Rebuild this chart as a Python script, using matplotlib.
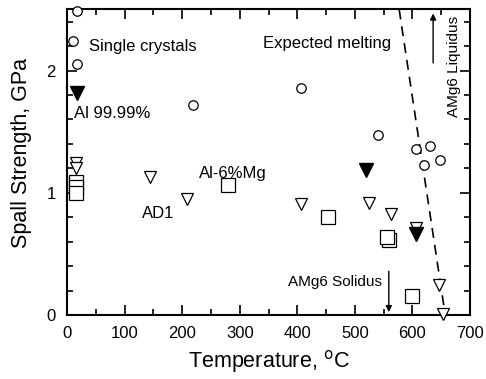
import matplotlib
matplotlib.use("Agg")
import matplotlib.pyplot as plt
from matplotlib.ticker import MultipleLocator

plt.rcParams['font.family'] = ['Liberation Sans', 'DejaVu Sans']

# single crystals
sc_t = [17, 10, 17, 218, 407, 541, 607, 630, 621, 648]
sc_s = [2.49, 2.24, 2.05, 1.72, 1.86, 1.47, 1.355, 1.38, 1.225, 1.265]

# Al 99.99%
al_t = [18, 520, 607]
al_s = [1.82, 1.19, 0.66]

# AD1
ad_t = [15, 15, 144, 208, 406, 525, 562, 607, 646, 654]
ad_s = [1.24, 1.20, 1.13, 0.95, 0.91, 0.915, 0.83, 0.71, 0.245, 0.01]

# Al-6%Mg
mg_t = [15, 15, 15, 280, 454, 559, 555, 599]
mg_s = [1.09, 1.05, 1.0, 1.06, 0.80, 0.61, 0.635, 0.155]

# expected melting line
melt_t = [577, 657]
melt_s = [2.5, 0.0]

solidus_t = 559
liquidus_t = 636

fig = plt.figure(figsize=(4.86, 3.79), dpi=100)
ax = fig.add_axes([0.138, 0.169, 0.829, 0.806])

ax.plot(melt_t, melt_s, 'k--', lw=1.2, dashes=(6, 4.2))
kw = dict(ls='none', clip_on=False, zorder=3)
ax.plot(sc_t, sc_s, 'o', ms=6.8, mfc='white', mec='black', mew=0.9, **kw)
ax.plot(ad_t, ad_s, 'v', ms=8, mfc='white', mec='black', mew=0.9, **kw)
ax.plot(mg_t, mg_s, 's', ms=9.5, mfc='white', mec='black', mew=0.9, **kw)
ax.plot(al_t, al_s, 'v', ms=10, mfc='black', mec='black', **kw)

ax.annotate('', xy=(liquidus_t, 2.49), xytext=(liquidus_t, 2.04),
            arrowprops=dict(arrowstyle='-|>', color='black', lw=1, mutation_scale=9))
ax.text(672, 2.03, 'AMg6 Liquidus', rotation=90, fontsize=11,
        ha='center', va='center')
ax.annotate('', xy=(solidus_t, 0.0), xytext=(solidus_t, 0.38),
            arrowprops=dict(arrowstyle='-|>', color='black', lw=1, mutation_scale=9))
ax.text(548, 0.27, 'AMg6 Solidus', fontsize=11, ha='right', va='center')

ax.text(38, 2.2, 'Single crystals', fontsize=12, va='center')
ax.text(12, 1.65, 'Al 99.99%', fontsize=12, va='center')
ax.text(230, 1.16, 'Al-6%Mg', fontsize=12, va='center')
ax.text(131, 0.83, 'AD1', fontsize=12, va='center')
ax.text(341, 2.22, 'Expected melting', fontsize=12, va='center')

ax.set_xlim(0, 700)
ax.set_ylim(0, 2.5)
ax.xaxis.set_major_locator(MultipleLocator(100))
ax.xaxis.set_minor_locator(MultipleLocator(50))
ax.yaxis.set_major_locator(MultipleLocator(1))
ax.yaxis.set_minor_locator(MultipleLocator(0.2))
ax.tick_params(which='both', direction='in', top=True, right=True, width=1.2, labelsize=12)
ax.tick_params(which='major', length=7)
ax.tick_params(which='minor', length=4)
ax.tick_params(axis='x', pad=8)
ax.tick_params(axis='y', pad=8)
for s in ax.spines.values():
    s.set_linewidth(1.5)

ax.set_xlabel('Temperature, $^{\\mathrm{o}}$C', fontsize=15.5)
ax.set_ylabel('Spall Strength, GPa', fontsize=15.5)
ax.xaxis.set_label_coords(0.5, -0.108)
ax.yaxis.set_label_coords(-0.087, 0.53)

fig.savefig('out.png', dpi=100)
